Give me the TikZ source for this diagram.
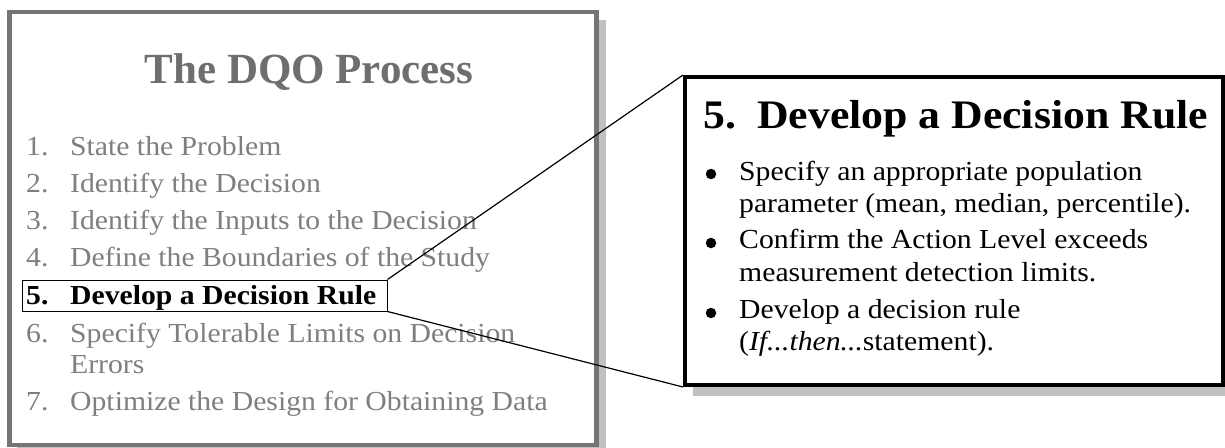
\documentclass[tikz,border=0pt]{standalone}
\usepackage{fontspec}
\setmainfont{Liberation Serif}
\newfontfamily\bodyfont{Liberation Serif}[FakeStretch=1.08]
\definecolor{boxgray}{HTML}{757575}
\definecolor{titlegray}{HTML}{6E6E6E}
\definecolor{listgray}{HTML}{7F7F7F}
\definecolor{shadowgray}{HTML}{C0C0C0}
\begin{document}
\begin{tikzpicture}[x=1pt,y=-1pt,
  frame/.style={draw=boxgray, line width=4.5pt, fill=white, inner sep=0pt},
  bigframe/.style={draw=black, line width=4pt, fill=white, inner sep=0pt},
  listtext/.style={anchor=base west, inner sep=0pt, text=listgray, font=\bodyfont\fontsize{27.5}{30}\selectfont},
  seltext/.style={anchor=base west, inner sep=0pt, text=black, font=\bodyfont\bfseries\fontsize{27.5}{30}\selectfont},
  bultext/.style={anchor=base west, inner sep=0pt, text=black, font=\bodyfont\fontsize{27.5}{30}\selectfont},
  bigtitle/.style={anchor=base west, inner sep=0pt, text=black, font=\bodyfont\bfseries\fontsize{40.5}{44}\selectfont},
  bulletdot/.style={circle, fill=black, inner sep=0pt, minimum size=10.5pt},
  connector/.style={draw=black, line width=1.2pt}]
\useasboundingbox (0,0) rectangle (1225,447);
% left panel
\fill[shadowgray] (17,20) rectangle (606,470);
\node[frame, minimum width=587pt, minimum height=433pt] (dqo) at (303,228.5) {};
\node[anchor=base, inner sep=0pt, text=titlegray, font=\bfseries\fontsize{43}{48}\selectfont] (title) at (309,83) {The DQO Process};
\node[listtext] (n1) at (26,155) {1.};
\node[listtext] (t1) at (70,155) {State the Problem};
\node[listtext] (n2) at (26,192) {2.};
\node[listtext] (t2) at (70,192) {Identify the Decision};
\node[listtext] (n3) at (26,229) {3.};
\node[listtext] (t3) at (70,229) {Identify the Inputs to the Decision};
\node[listtext] (n4) at (26,266) {4.};
\node[listtext] (t4) at (70,266) {Define the Boundaries of the Study};
\node[draw=black, line width=1pt, inner sep=0pt, minimum width=365pt, minimum height=31pt] (sel) at (204.5,295.5) {};
\node[seltext] (n5) at (26,304) {5.};
\node[seltext] (t5) at (70,304) {Develop a Decision Rule};
\node[listtext] (n6) at (26,342) {6.};
\node[listtext] (t6) at (70,342) {Specify Tolerable Limits on Decision};
\node[listtext] (t6b) at (70,373) {Errors};
\node[listtext] (n7) at (26,410) {7.};
\node[listtext] (t7) at (70,410) {Optimize the Design for Obtaining Data};
% right panel
\fill[shadowgray] (693,85) rectangle (1240,396);
\node[bigframe, minimum width=538pt, minimum height=308pt] (detail) at (954,231) {};
\node[bigtitle] (dn) at (703,128) {5.};
\node[bigtitle] (dt) at (757,128) {Develop a Decision Rule};
\node[bulletdot] (b1) at (711,174) {};
\node[bultext] (l1) at (739,180) {Specify an appropriate population};
\node[bultext] (l2) at (739,212) {parameter (mean, median, percentile).};
\node[bulletdot] (b2) at (711,243) {};
\node[bultext] (l3) at (739,248) {Confirm the Action Level exceeds};
\node[bultext] (l4) at (739,281) {measurement detection limits.};
\node[bulletdot] (b3) at (711,313) {};
\node[bultext] (l5) at (739,318) {Develop a decision rule};
\node[bultext] (l6) at (739,350) {(\textit{If...then...}statement).};
% connectors
\draw[connector] (sel.north east) -- (detail.north west);
\draw[connector] (sel.south east) -- (detail.south west);
\end{tikzpicture}
\end{document}
